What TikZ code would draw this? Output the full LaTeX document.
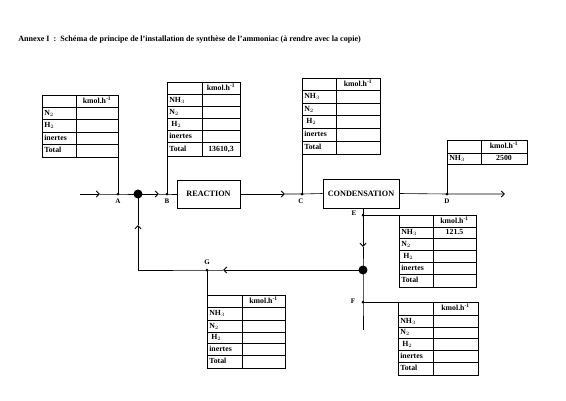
\documentclass[tikz,border=0pt]{standalone}
\usepackage{fontspec}
\setmainfont{Liberation Serif}
\usetikzlibrary{arrows.meta}
\newcommand{\datatab}[7]{% #1 name #2 left #3 divider #4 right #5 top #6 bottom #7 rows
  \foreach \ya/\yb/\lab/\val [count=\i] in {#7}{
    \draw (#2,\ya) rectangle (#3,\yb);
    \draw (#3,\ya) rectangle (#4,\yb);
    \node[tbl, anchor=west] (#1-l\i) at (#2+2,{(\ya+\yb)/2}) {\lab};
    \node[tbl] (#1-v\i) at ({(#3+#4)/2},{(\ya+\yb)/2}) {\val};
  }
  \coordinate (#1-nw) at (#2,#5);
  \coordinate (#1-sw) at (#2,#6);
  \coordinate (#1-se) at (#4,#6);
}
\newcommand{\kmolh}{kmol.h\textsuperscript{-1}}
\begin{document}
\begin{tikzpicture}[x=1pt,y=-1pt, line width=0.6pt,
  tbl/.style={font=\fontsize{7.8}{9}\selectfont\bfseries, inner sep=0pt, text height=5.4pt, text depth=1.4pt},
  lbl/.style={font=\fontsize{7}{8}\selectfont\bfseries, inner sep=0pt},
  proc/.style={draw, line width=0.8pt, font=\fontsize{8.2}{9}\selectfont\bfseries, inner sep=0pt},
  sdot/.style={circle, fill, inner sep=0pt, minimum size=3pt},
  bdot/.style={circle, fill, inner sep=0pt, minimum size=9pt},
  flow/.style={-{Straight Barb[length=3.2pt,width=6pt,line width=0.9pt]}}]
\useasboundingbox (0,0) rectangle (566,400);

\node[anchor=base west, font=\fontsize{8.1}{9}\selectfont\bfseries, inner sep=0pt] (title) at (18,41)
  {Annexe I~~:~~Schéma de principe de l'installation de synthèse de l'ammoniac (à rendre avec la copie)};

% tables
\datatab{tA}{42}{76}{118}{95}{157}{95/107/{}/{\kmolh}, 107/119/{N$_2$}/{}, 119/132/{H$_2$}/{}, 132/144/{inertes}/{}, 144/157/{Total}/{}}
\datatab{tB}{167}{202}{240}{82}{156}{82/94/{}/{\kmolh}, 94/106/{NH$_3$}/{}, 106/118/{N$_2$}/{}, 118/130/{\hspace{2pt}H$_2$}/{}, 130/142/{inertes}/{}, 142/156/{Total}/{13610,3}}
\datatab{tC}{302}{336}{380}{78}{154}{78/90/{}/{\kmolh}, 90/103/{NH$_3$}/{}, 103/115/{N$_2$}/{}, 115/128/{\hspace{2pt}H$_2$}/{}, 128/141/{inertes}/{}, 141/154/{Total}/{}}
\datatab{tD}{447}{481}{527}{140}{164}{140/153/{}/{\kmolh}, 153/164/{NH$_3$}/{2500}}
\datatab{tE}{399}{433}{476}{215}{287}{215/227/{}/{\kmolh}, 227/238/{NH$_3$}/{121.5}, 238/250/{N$_2$}/{}, 250/262/{\hspace{2pt}H$_2$}/{}, 262/274/{inertes}/{}, 274/287/{Total}/{}}
\datatab{tF}{398}{433}{478}{302}{375}{302/315/{}/{\kmolh}, 315/327/{NH$_3$}/{}, 327/338/{N$_2$}/{}, 338/350/{\hspace{2pt}H$_2$}/{}, 350/362/{inertes}/{}, 362/375/{Total}/{}}
\datatab{tG}{207}{242}{285}{295}{368}{295/307/{}/{\kmolh}, 307/320/{NH$_3$}/{}, 320/332/{N$_2$}/{}, 332/343/{\hspace{2pt}H$_2$}/{}, 343/355/{inertes}/{}, 355/368/{Total}/{}}

% process boxes
\node[proc, minimum width=63pt, minimum height=28pt] (R) at (208.5,194) {REACTION};
\node[proc, minimum width=76pt, minimum height=29pt] (K) at (361,193.5) {CONDENSATION};

% points
\coordinate (in) at (80,194);
\coordinate (a1) at (100,194);
\node[sdot] (A) at (118,194) {};
\node[bdot] (J1) at (138,194) {};
\coordinate (a2) at (159,194);
\node[sdot] (B) at (167,194) {};
\coordinate (a3) at (285,194);
\node[sdot] (C) at (302,194) {};
\node[sdot] (D) at (447,194) {};
\coordinate (out) at (505,194);
\node[sdot] (E) at (363,215) {};
\coordinate (a4) at (363,247);
\node[bdot] (J2) at (363,270) {};
\node[sdot] (F) at (363,302) {};
\coordinate (Fend) at (363,330);
\coordinate (a5) at (223,270);
\node[sdot] (G) at (207,270) {};
\coordinate (LL) at (138,270);
\coordinate (a6) at (138,225);

% labels
\node[lbl] (lA) at (118,201) {A};
\node[lbl] (lB) at (167,201) {B};
\node[lbl] (lC) at (301,201) {C};
\node[lbl] (lD) at (447,201) {D};
\node[lbl] (lE) at (354,213) {E};
\node[lbl] (lF) at (353,301) {F};
\node[lbl] (lG) at (207,262) {G};

% main line
\draw[flow] (in) -- (a1);
\draw (a1) -- (A.center) -- (J1.center);
\draw[flow] (J1.center) -- (a2);
\draw (a2) -- (B.center) -- (R.west);
\draw[flow] (R.east) -- (a3);
\draw (a3) -- (C.center) -- (K.west);
\draw[flow] (K.east) -- (D.center) -- (out);

% condensate branch
\draw (E |- K.south) -- (E.center);
\draw[flow] (E.center) -- (a4);
\draw (a4) -- (J2.center) -- (F.center) -- (Fend);
\draw (E.center) -- (tE-nw);
\draw (F.center) -- (tF-nw);

% recycle loop
\draw[flow] (J2.center) -- (a5);
\draw (a5) -- (G.center) -- (LL);
\draw[flow] (LL) -- (a6);
\draw (a6) -- (J1.center);
\draw (G.center) -- (tG-nw);

% table connections
\draw (tA-se) -- (A.center);
\draw (tB-sw) -- (B.center);
\draw (tC-sw) -- (C.center);
\draw (tD-sw) -- (D.center);
\end{tikzpicture}
\end{document}
